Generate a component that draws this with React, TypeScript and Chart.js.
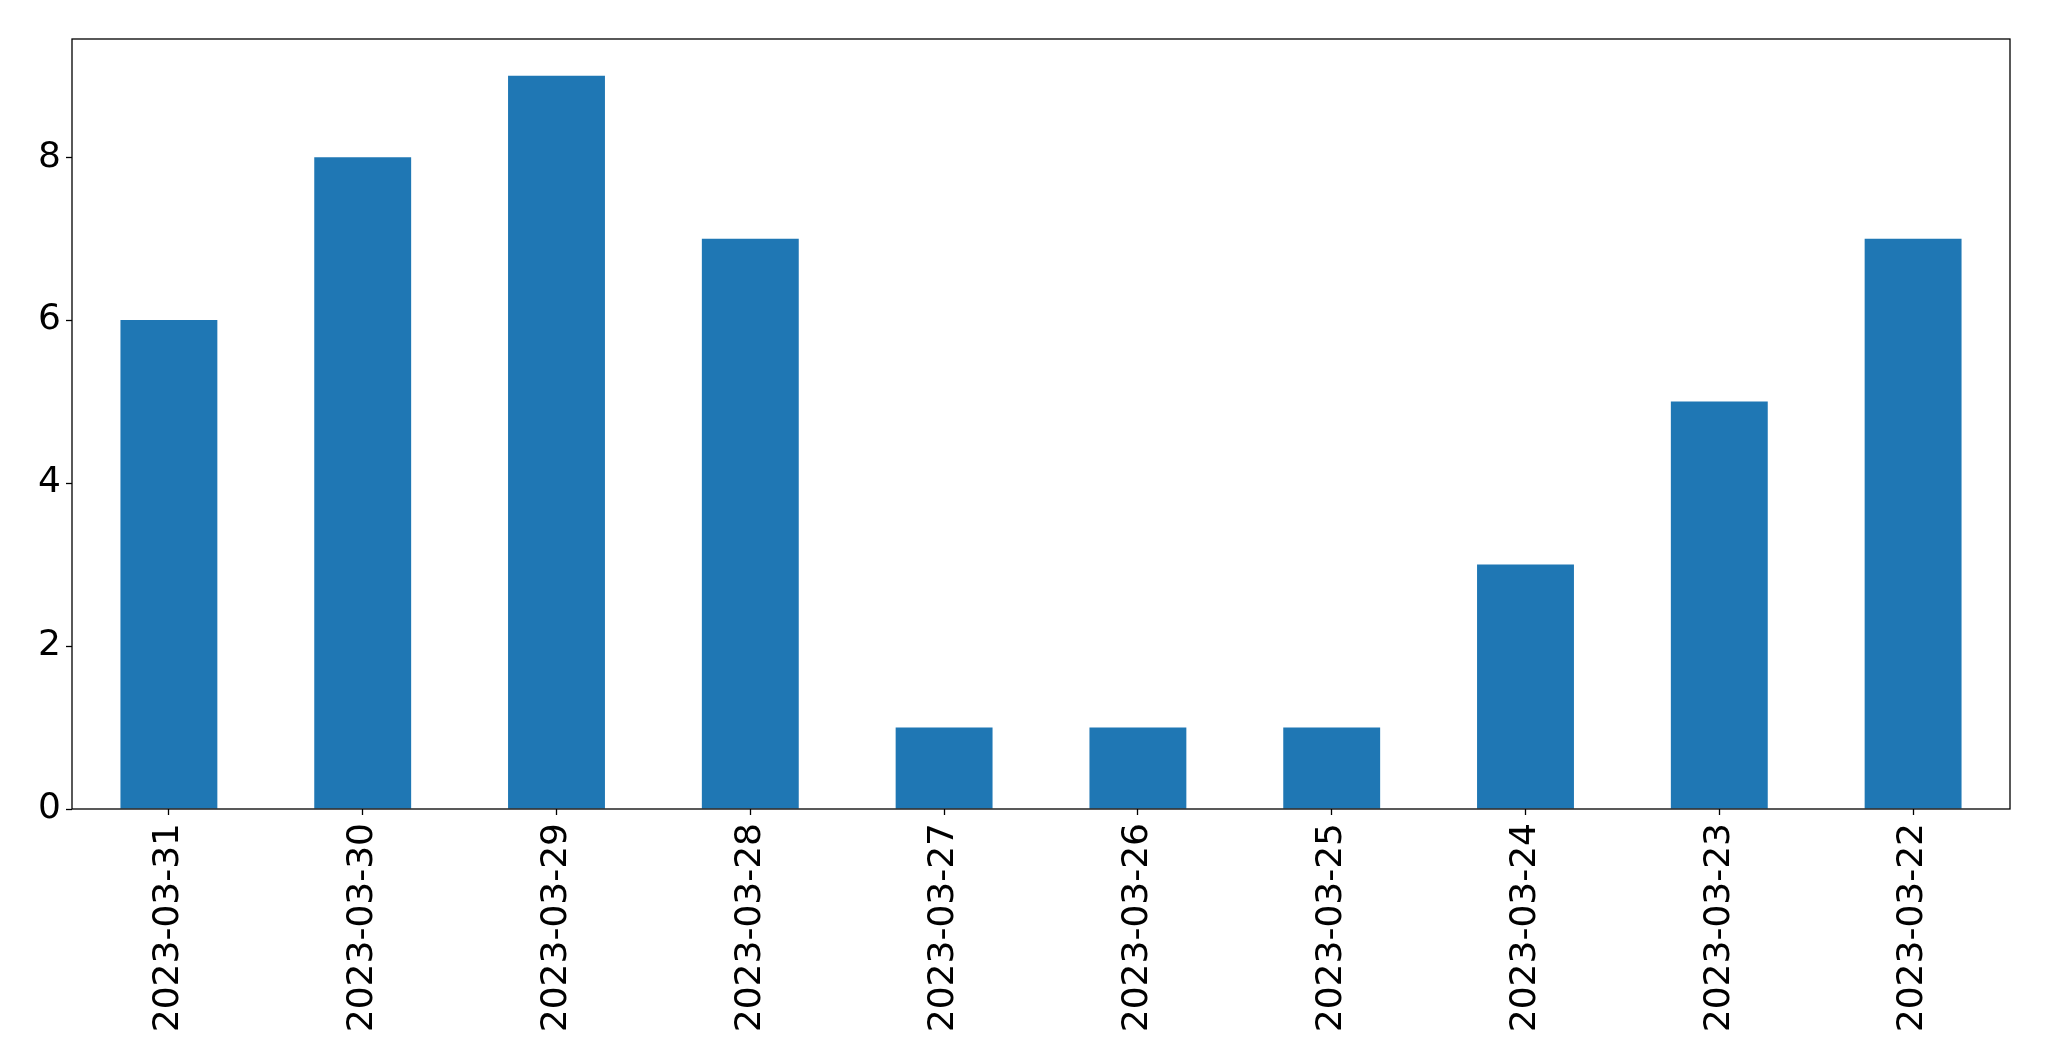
import React, { useEffect, useRef } from 'react';
import { Chart, registerables } from 'chart.js';

Chart.register(...registerables);

const dates = [
  '2023-03-31', '2023-03-30', '2023-03-29', '2023-03-28', '2023-03-27',
  '2023-03-26', '2023-03-25', '2023-03-24', '2023-03-23', '2023-03-22',
];
const counts = [6, 8, 9, 7, 1, 1, 1, 3, 5, 7];
const yTicks = [0, 2, 4, 6, 8];

// draws the full box round the plot area, like matplotlib's spines
const frame = {
  id: 'frame',
  afterDraw(chart: Chart) {
    const { ctx, chartArea } = chart;
    ctx.save();
    ctx.strokeStyle = '#000';
    ctx.lineWidth = 1.3;
    ctx.strokeRect(chartArea.left, chartArea.top, chartArea.right - chartArea.left, chartArea.bottom - chartArea.top);
    ctx.restore();
  },
};

const App: React.FC = () => {
  const canvasRef = useRef<HTMLCanvasElement>(null);

  useEffect(() => {
    document.body.style.margin = '0';
    if (!canvasRef.current) return;
    const chart = new Chart(canvasRef.current, {
      type: 'bar',
      data: {
        labels: dates,
        datasets: [
          {
            data: counts,
            backgroundColor: '#1f77b4',
            barPercentage: 0.5,
            categoryPercentage: 1,
          },
        ],
      },
      options: {
        animation: false,
        responsive: true,
        maintainAspectRatio: false,
        layout: { padding: { top: 39, right: 39, left: 0, bottom: 0 } },
        plugins: { legend: { display: false }, tooltip: { enabled: false } },
        scales: {
          x: {
            grid: {
              display: true,
              offset: false,
              drawOnChartArea: false,
              tickLength: 6,
              tickColor: '#000',
              tickWidth: 1.3,
            },
            border: { display: false },
            ticks: {
              color: '#000',
              font: { family: 'DejaVu Sans', size: 36 },
              maxRotation: 90,
              minRotation: 90,
              padding: 8,
              autoSkip: false,
            },
            afterFit: (scale: any) => {
              scale.height = 252;
            },
          },
          y: {
            min: 0,
            max: 9.45,
            grid: { display: true, drawOnChartArea: false, tickLength: 6, tickColor: '#000', tickWidth: 1.3 },
            border: { display: false },
            ticks: {
              color: '#000',
              font: { family: 'DejaVu Sans', size: 36 },
              padding: 5,
            },
            afterBuildTicks: (scale: any) => {
              scale.ticks = yTicks.map((v) => ({ value: v }));
            },
            afterFit: (scale: any) => {
              scale.width = 72;
            },
          },
        },
      },
      plugins: [frame],
    });
    return () => chart.destroy();
  }, []);

  return (
    <div style={{ position: 'relative', width: '2049px', height: '1061px', background: '#fff' }}>
      <canvas ref={canvasRef}></canvas>
    </div>
  );
};

export default App;
